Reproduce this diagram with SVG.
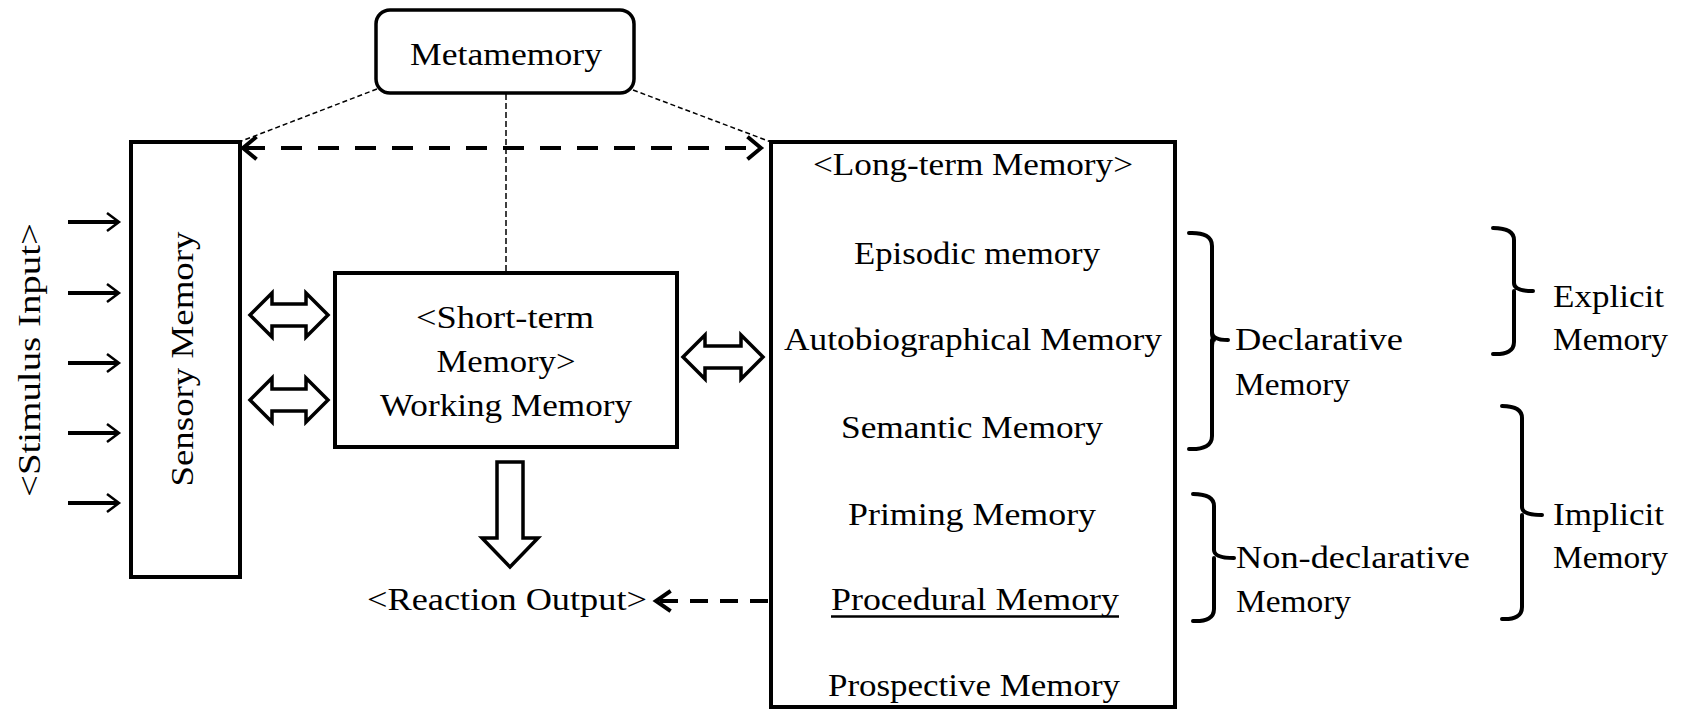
<svg xmlns="http://www.w3.org/2000/svg" width="1684" height="709" viewBox="0 0 1684 709">
<style>
.t{font-family:"Liberation Serif","Times New Roman",serif;font-size:32px;fill:#000}
.m{text-anchor:middle}
.box{fill:#fff;stroke:#000;stroke-width:4}
.blk{fill:#fff;stroke:#000;stroke-width:3.5;stroke-linejoin:miter}
.dot{fill:none;stroke:#000;stroke-width:1.5;stroke-dasharray:5 3}
.dash{fill:none;stroke:#000;stroke-width:4}
.head{fill:none;stroke:#000;stroke-width:4;stroke-linecap:square}
.br{fill:none;stroke:#000;stroke-width:4;stroke-linecap:round;stroke-linejoin:round}
.in{stroke:#000;stroke-width:4}
.inh{fill:none;stroke:#000;stroke-width:2.5}
</style>
<rect width="1684" height="709" fill="#fff"/>

<g id="connectors">
  <line class="dot" x1="377" y1="89" x2="239" y2="142"/>
  <line class="dot" x1="633" y1="90" x2="771" y2="142"/>
  <line class="dot" x1="506" y1="94" x2="506" y2="272" style="stroke-dasharray:6 3"/>
  <line class="dash" x1="244" y1="148" x2="760" y2="148" style="stroke-dasharray:21 16"/>
  <polyline class="head" points="255,138 243,148 255,158"/>
  <polyline class="head" points="749,138 761,148 749,158"/>
  <line class="dash" x1="768" y1="601" x2="658" y2="601" style="stroke-dasharray:18 12"/>
  <polyline class="head" points="669,592 656,601 669,610"/>
  <g id="stimulus-arrows">
    <line class="in" x1="68" y1="222" x2="118" y2="222"/><polyline class="inh" points="107,213 119,222 107,231"/>
    <line class="in" x1="68" y1="293" x2="118" y2="293"/><polyline class="inh" points="107,284 119,293 107,302"/>
    <line class="in" x1="68" y1="363" x2="118" y2="363"/><polyline class="inh" points="107,354 119,363 107,372"/>
    <line class="in" x1="68" y1="433" x2="118" y2="433"/><polyline class="inh" points="107,424 119,433 107,442"/>
    <line class="in" x1="68" y1="503" x2="118" y2="503"/><polyline class="inh" points="107,494 119,503 107,512"/>
  </g>
  <path class="blk" d="M250,315 L272,293 V304 H306 V293 L328,315 L306,337 V326 H272 V337 Z"/>
  <path class="blk" d="M250,400 L272,378 V389 H306 V378 L328,400 L306,422 V411 H272 V422 Z"/>
  <path class="blk" d="M683,357 L705,335 V346 H741 V335 L763,357 L741,379 V368 H705 V379 Z"/>
  <path class="blk" d="M497,462 H523 V538 H538 L510,567 L482,538 H497 Z"/>
</g>

<g id="metamemory">
  <rect class="box" x="376" y="10" width="258" height="83" rx="14" style="stroke-width:3.5"/>
  <text class="t m" x="506" y="65" textLength="192" lengthAdjust="spacingAndGlyphs">Metamemory</text>
</g>

<g id="stimulus-input">
  <text class="t m" transform="translate(40,360) rotate(-90)" textLength="274" lengthAdjust="spacingAndGlyphs">&lt;Stimulus Input&gt;</text>
</g>

<g id="sensory-memory">
  <rect class="box" x="131" y="142" width="109" height="435"/>
  <text class="t m" transform="translate(193,359) rotate(-90)" textLength="255" lengthAdjust="spacingAndGlyphs">Sensory Memory</text>
</g>

<g id="short-term-memory">
  <rect class="box" x="335" y="273" width="342" height="174"/>
  <text class="t m" x="505" y="328" textLength="178" lengthAdjust="spacingAndGlyphs">&lt;Short-term</text>
  <text class="t m" x="506" y="372" textLength="139" lengthAdjust="spacingAndGlyphs">Memory&gt;</text>
  <text class="t m" x="506" y="416" textLength="252" lengthAdjust="spacingAndGlyphs">Working Memory</text>
</g>

<g id="reaction-output">
  <text class="t m" x="507" y="610" textLength="280" lengthAdjust="spacingAndGlyphs">&lt;Reaction Output&gt;</text>
</g>

<g id="long-term-memory">
  <rect class="box" x="771" y="142" width="404" height="565"/>
  <text class="t m" x="973" y="175" textLength="320" lengthAdjust="spacingAndGlyphs">&lt;Long-term Memory&gt;</text>
  <text class="t m" x="977" y="264" textLength="246" lengthAdjust="spacingAndGlyphs">Episodic memory</text>
  <text class="t m" x="973" y="350" textLength="378" lengthAdjust="spacingAndGlyphs">Autobiographical Memory</text>
  <text class="t m" x="972" y="438" textLength="262" lengthAdjust="spacingAndGlyphs">Semantic Memory</text>
  <text class="t m" x="972" y="525" textLength="248" lengthAdjust="spacingAndGlyphs">Priming Memory</text>
  <text class="t m" x="975" y="610" textLength="288" lengthAdjust="spacingAndGlyphs">Procedural Memory</text>
  <line x1="831" y1="616.5" x2="1119" y2="616.5" stroke="#000" stroke-width="2.5"/>
  <text class="t m" x="974" y="696" textLength="292" lengthAdjust="spacingAndGlyphs">Prospective Memory</text>
</g>

<g id="declarative">
  <path class="br" d="M1189,233 Q1212,232 1212,246 V332 Q1212,340 1228,340 M1212,340 Q1212,348 1212,350 V436 Q1212,450 1189,449"/>
  <path class="br" d="M1212,332 Q1212,340 1214,340 Q1212,340 1212,348"/>
  <text class="t" x="1235" y="350" textLength="168" lengthAdjust="spacingAndGlyphs">Declarative</text>
  <text class="t" x="1235" y="395" textLength="115" lengthAdjust="spacingAndGlyphs">Memory</text>
</g>

<g id="non-declarative">
  <path class="br" d="M1193,494 Q1214,494 1214,506 V550 Q1214,558 1234,558 M1214,558 Q1214,566 1214,568 V609 Q1214,622 1193,621"/>
  <text class="t" x="1236" y="568" textLength="234" lengthAdjust="spacingAndGlyphs">Non-declarative</text>
  <text class="t" x="1236" y="612" textLength="115" lengthAdjust="spacingAndGlyphs">Memory</text>
</g>

<g id="explicit">
  <path class="br" d="M1493,228 Q1514,228 1514,240 V283 Q1514,291 1533,291 M1514,291 Q1514,299 1514,301 V342 Q1514,355 1493,354"/>
  <text class="t" x="1553" y="307" textLength="111" lengthAdjust="spacingAndGlyphs">Explicit</text>
  <text class="t" x="1553" y="350" textLength="115" lengthAdjust="spacingAndGlyphs">Memory</text>
</g>

<g id="implicit">
  <path class="br" d="M1502,406 Q1522,406 1522,418 V507 Q1522,515 1542,515 M1522,515 Q1522,523 1522,525 V607 Q1522,620 1502,619"/>
  <text class="t" x="1553" y="525" textLength="111" lengthAdjust="spacingAndGlyphs">Implicit</text>
  <text class="t" x="1553" y="568" textLength="115" lengthAdjust="spacingAndGlyphs">Memory</text>
</g>
</svg>
